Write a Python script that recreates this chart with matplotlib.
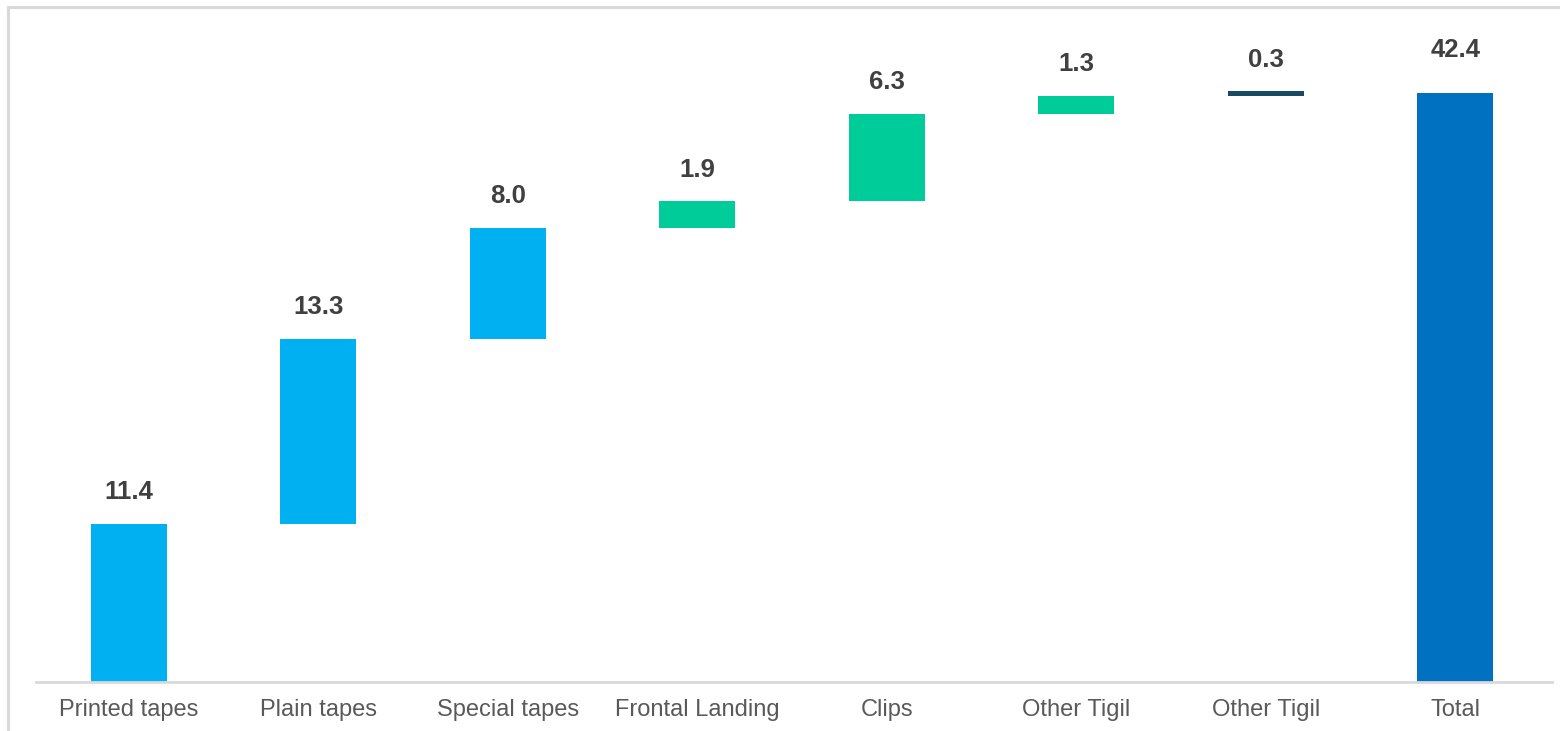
import matplotlib.pyplot as plt
from matplotlib.lines import Line2D
import numpy as np

categories = ["Printed tapes", "Plain tapes", "Special tapes", "Frontal Landing",
              "Clips", "Other Tigil", "Other Tigil", "Total"]
steps = [11.4, 13.3, 8.0, 1.9, 6.3, 1.3, 0.3]
total = 42.4
bar_colors = ["#00B0F0", "#00B0F0", "#00B0F0", "#00CC99", "#00CC99", "#00CC99",
              "#184A63", "#0070C0"]

plt.rcParams['font.family'] = ['Liberation Sans', 'DejaVu Sans']

# running bottoms for the floating bars, total starts at zero
bottoms = list(np.concatenate([[0], np.cumsum(steps)[:-1]])) + [0]
heights = steps + [total]
x = np.arange(len(categories))

fig = plt.figure(figsize=(15.6, 7.31), dpi=100)
ax = fig.add_axes([36 / 1560, 49 / 731, 1516 / 1560, 667 / 731])

ax.bar(x, heights, bottom=bottoms, width=0.4, color=bar_colors)

for i, (xi, b, h) in enumerate(zip(x, bottoms, heights)):
    off = 22 if i == len(x) - 1 else 14
    ax.annotate(f"{h:.1f}", (xi, b + h), textcoords="offset points", xytext=(0, off),
                ha='center', va='bottom', fontsize=18.5, fontweight='bold', color='#404040')

ax.set_xlim(-0.49, 7.51)
ax.set_ylim(0, 48)
ax.set_xticks(x)
ax.set_xticklabels(categories, fontsize=17, color='#595959')
ax.tick_params(axis='x', length=0, pad=12)
ax.set_yticks([])
for side in ['top', 'right', 'left']:
    ax.spines[side].set_visible(False)
ax.spines['bottom'].set_color('#D9D9D9')
ax.spines['bottom'].set_linewidth(2)

# light frame on the left and top
fig.add_artist(Line2D([8 / 1560, 8 / 1560], [0, 1 - 7 / 731], transform=fig.transFigure,
                      color='#D9D9D9', linewidth=2.2))
fig.add_artist(Line2D([8 / 1560, 1], [1 - 7 / 731, 1 - 7 / 731], transform=fig.transFigure,
                      color='#D9D9D9', linewidth=2.2))

fig.savefig("out.png", dpi=100)
